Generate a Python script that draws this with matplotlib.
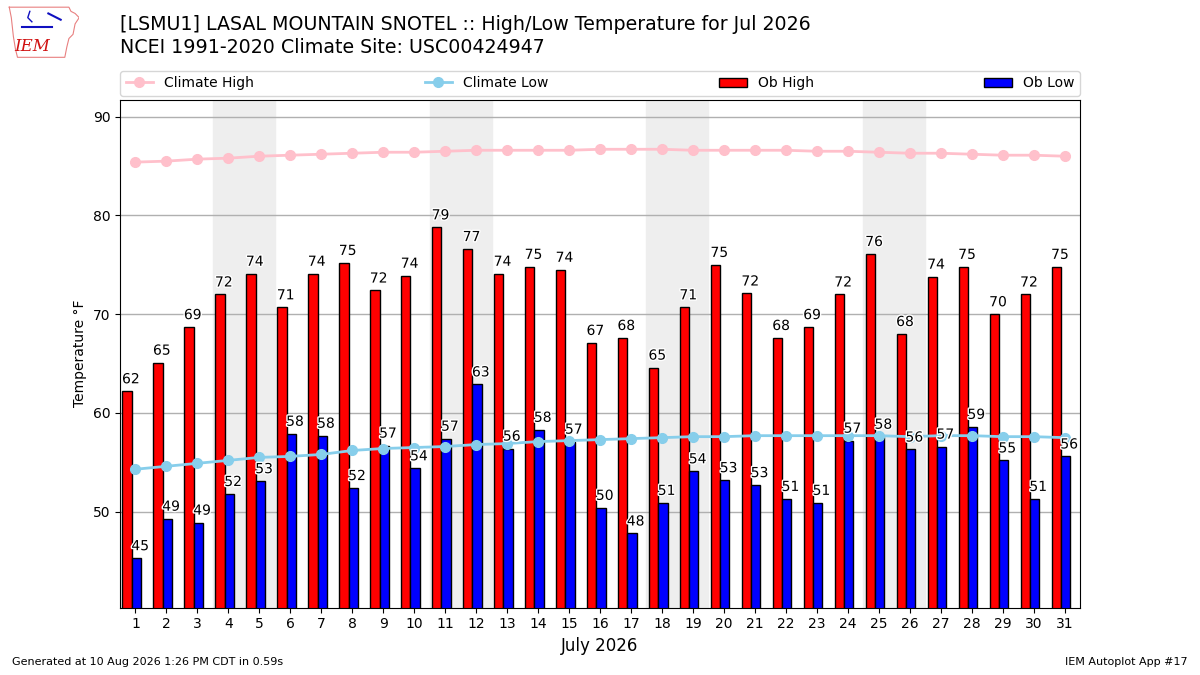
import numpy as np
import matplotlib
matplotlib.use("Agg")
import matplotlib.pyplot as plt
import matplotlib.patheffects as pe

# ====== data ======
days = list(range(1, 32))
ob_high = [62.2, 65.1, 68.7, 72.0, 74.1, 70.7, 74.1, 75.2, 72.4, 73.9,
           78.8, 76.6, 74.1, 74.8, 74.5, 67.1, 67.6, 64.6, 70.7, 75.0,
           72.1, 67.6, 68.7, 72.0, 76.1, 68.0, 73.8, 74.8, 70.0, 72.0, 74.8]
ob_low = [45.3, 49.3, 48.9, 51.8, 53.1, 57.9, 57.7, 52.4, 56.7, 54.4,
          57.4, 62.9, 56.4, 58.3, 57.1, 50.4, 47.8, 50.9, 54.1, 53.2,
          52.7, 51.3, 50.9, 57.2, 57.6, 56.3, 56.6, 58.6, 55.2, 51.3, 55.6]
clim_high = [85.4, 85.5, 85.7, 85.8, 86.0, 86.1, 86.2, 86.3, 86.4, 86.4,
             86.5, 86.6, 86.6, 86.6, 86.6, 86.7, 86.7, 86.7, 86.6, 86.6,
             86.6, 86.6, 86.5, 86.5, 86.4, 86.3, 86.3, 86.2, 86.1, 86.1, 86.0]
clim_low = [54.3, 54.6, 54.9, 55.2, 55.5, 55.6, 55.8, 56.2, 56.4, 56.5,
            56.6, 56.8, 56.9, 57.1, 57.2, 57.3, 57.4, 57.5, 57.6, 57.6,
            57.7, 57.7, 57.7, 57.7, 57.7, 57.6, 57.7, 57.7, 57.6, 57.6, 57.5]
weekends = [4, 11, 18, 25]

title1 = "[LSMU1] LASAL MOUNTAIN SNOTEL :: High/Low Temperature for Jul 2026"
title2 = "NCEI 1991-2020 Climate Site: USC00424947"

# ====== figure ======
fig = plt.figure(figsize=(12, 6.75), dpi=100)
ax = fig.add_axes([0.1, 0.1, 0.8, 0.752])

d = np.array(days)
for w in weekends:
    ax.axvspan(w - 0.5, w + 1.5, color="#eeeeee", zorder=0)

ax.plot(d, clim_high, "o-", color="pink", lw=2, ms=7, label="Climate High", zorder=3)
ax.plot(d, clim_low, "o-", color="skyblue", lw=2, ms=7, label="Climate Low", zorder=3)
ax.bar(d - 0.42, ob_high, width=0.3, align="edge", color="r", ec="k",
       lw=1, label="Ob High", zorder=2)
ax.bar(d - 0.12, ob_low, width=0.3, align="edge", color="b", ec="k",
       lw=1, label="Ob Low", zorder=2)

stroke = [pe.withStroke(linewidth=2, foreground="white")]
for x, hi, lo in zip(days, ob_high, ob_low):
    ax.text(x - 0.15, hi + 0.5, f"{hi:.0f}", ha="center", va="bottom",
            fontsize=10, zorder=4, path_effects=stroke)
    ax.text(x + 0.15, lo + 0.5, f"{lo:.0f}", ha="center", va="bottom",
            fontsize=10, zorder=4, path_effects=stroke)

ax.set_xlim(0.5, 31.5)
ax.set_ylim(40.3, 91.7)
ax.set_xticks(days)
ax.set_yticks([50, 60, 70, 80, 90])
ax.tick_params(labelsize=10)
ax.yaxis.grid(True, color="#b0b0b0", lw=1, zorder=1)
ax.set_axisbelow(True)
ax.set_xlabel("July 2026", fontsize=12)
ax.set_ylabel("Temperature °F", fontsize=10)

ax.legend(ncol=4, mode="expand", loc="lower left",
          bbox_to_anchor=(0, 1.008, 1, 0.05), fontsize=10, borderaxespad=0)

fig.text(0.1, 0.963, title1, fontsize=13.7, va="center")
fig.text(0.1, 0.930, title2, fontsize=13.7, va="center")

fig.text(0.01, 0.015, "Generated at 10 Aug 2026 1:26 PM CDT in 0.59s", fontsize=8)
fig.text(0.99, 0.015, "IEM Autoplot App #17", fontsize=8, ha="right")

# ====== rough IEM logo ======
lax = fig.add_axes([0.006, 0.912, 0.06, 0.082])
lax.set_xlim(0, 70)
lax.set_ylim(0, 53)
lax.axis("off")
ox = [2, 60, 62, 66, 70, 66, 64, 60, 58, 56, 10, 8, 6, 4, 2]
oy = [50, 50, 46, 44, 40, 34, 24, 20, 12, 2, 2, 10, 22, 40, 50]
lax.plot(ox, oy, color="#e88080", lw=0.8)
lax.plot([14, 30, 44], [31, 31, 31], color="#1010c0", lw=1.5)
lax.plot([40, 52], [44, 38], color="#1010c0", lw=1.5)
lax.plot([22, 20, 24], [46, 40, 36], color="#1010c0", lw=1)
lax.text(24, 12, "IEM", color="#d01010", fontsize=12, family="serif",
         style="italic", ha="center", va="center")

fig.savefig("out.png", dpi=100)
